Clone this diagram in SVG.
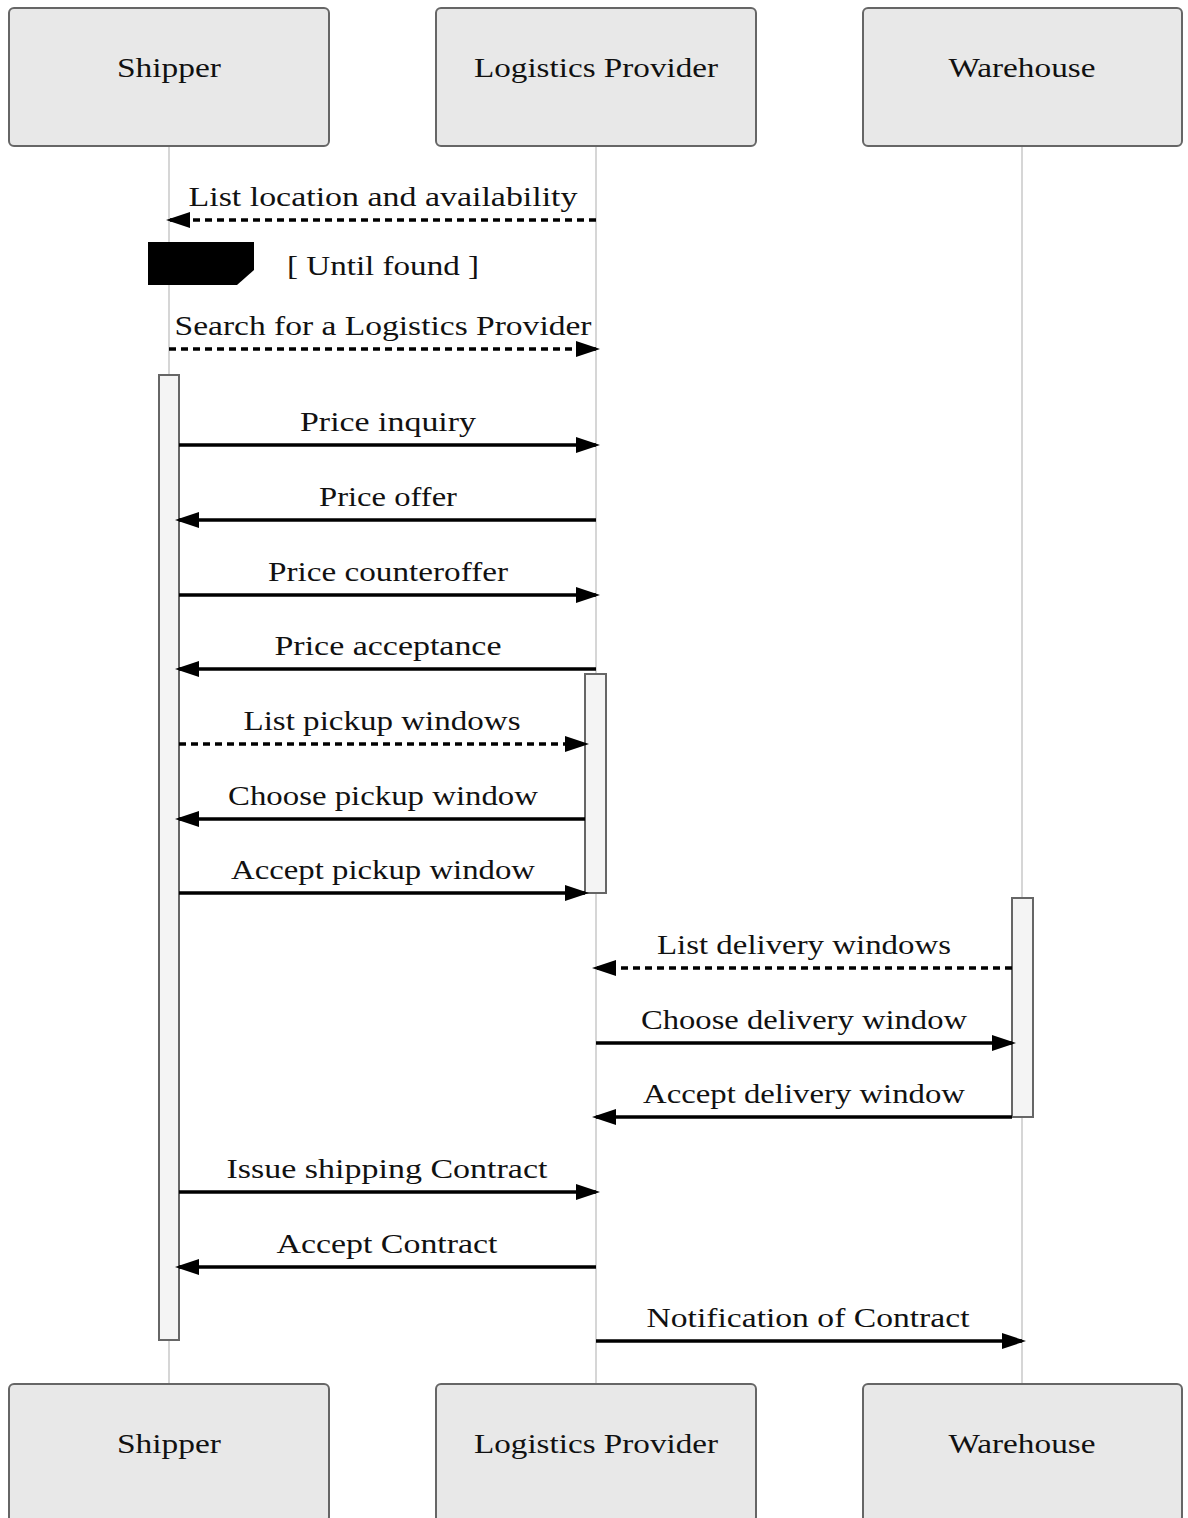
<svg xmlns="http://www.w3.org/2000/svg" width="1188" height="1518" viewBox="0 0 1188 1518">
<style>
.actor rect{fill:#e8e8e8;stroke:#666;stroke-width:2}
.t{font-family:"Liberation Serif","DejaVu Serif",serif;font-size:28px;fill:#111;text-anchor:middle}
.life{stroke:#bbb;stroke-width:1.2}
.act{fill:#f4f4f4;stroke:#666;stroke-width:2}
.msg{stroke:#000;stroke-width:3.5;fill:none;marker-end:url(#ah)}
.dash{stroke-dasharray:7,5}
</style>
<defs>
<marker id="ah" markerUnits="userSpaceOnUse" markerWidth="24" markerHeight="16" refX="20" refY="8" orient="auto">
<path d="M0,0 L24,8 L0,16 z" fill="#000"/>
</marker>
</defs>
<rect width="1188" height="1518" fill="#fff"/>
<g id="lifelines">
<line class="life" x1="169" y1="146" x2="169" y2="1384"/>
<line class="life" x1="596" y1="146" x2="596" y2="1384"/>
<line class="life" x1="1022" y1="146" x2="1022" y2="1384"/>
</g>
<g id="actor-shipper-top" class="actor"><rect x="9" y="8" width="320" height="138" rx="5"/><text class="t" x="169" y="77" textLength="104" lengthAdjust="spacingAndGlyphs">Shipper</text></g>
<g id="actor-lp-top" class="actor"><rect x="436" y="8" width="320" height="138" rx="5"/><text class="t" x="596" y="77" textLength="244" lengthAdjust="spacingAndGlyphs">Logistics Provider</text></g>
<g id="actor-wh-top" class="actor"><rect x="863" y="8" width="319" height="138" rx="5"/><text class="t" x="1022" y="77" textLength="147" lengthAdjust="spacingAndGlyphs">Warehouse</text></g>
<g id="actor-shipper-bottom" class="actor"><rect x="9" y="1384" width="320" height="138" rx="5"/><text class="t" x="169" y="1453" textLength="104" lengthAdjust="spacingAndGlyphs">Shipper</text></g>
<g id="actor-lp-bottom" class="actor"><rect x="436" y="1384" width="320" height="138" rx="5"/><text class="t" x="596" y="1453" textLength="244" lengthAdjust="spacingAndGlyphs">Logistics Provider</text></g>
<g id="actor-wh-bottom" class="actor"><rect x="863" y="1384" width="319" height="138" rx="5"/><text class="t" x="1022" y="1453" textLength="147" lengthAdjust="spacingAndGlyphs">Warehouse</text></g>
<g id="activations">
<rect class="act" x="159" y="375" width="20" height="965"/>
<rect class="act" x="585" y="674" width="21" height="219"/>
<rect class="act" x="1012" y="898" width="21" height="219"/>
</g>
<g id="loop">
<polygon points="148,242 254,242 254,270 237,285 148,285" fill="#000"/>
<text class="t" x="383" y="275" textLength="192" lengthAdjust="spacingAndGlyphs">[ Until found ]</text>
</g>
<g id="connectors">
<line class="msg dash" x1="596" y1="220" x2="170" y2="220"/>
<line class="msg dash" x1="169" y1="349" x2="596" y2="349"/>
<line class="msg" x1="179" y1="445" x2="596" y2="445"/>
<line class="msg" x1="596" y1="520" x2="179" y2="520"/>
<line class="msg" x1="179" y1="595" x2="596" y2="595"/>
<line class="msg" x1="596" y1="669" x2="179" y2="669"/>
<line class="msg dash" x1="179" y1="744" x2="585" y2="744"/>
<line class="msg" x1="585" y1="819" x2="179" y2="819"/>
<line class="msg" x1="179" y1="893" x2="585" y2="893"/>
<line class="msg dash" x1="1012" y1="968" x2="596" y2="968"/>
<line class="msg" x1="596" y1="1043" x2="1012" y2="1043"/>
<line class="msg" x1="1012" y1="1117" x2="596" y2="1117"/>
<line class="msg" x1="179" y1="1192" x2="596" y2="1192"/>
<line class="msg" x1="596" y1="1267" x2="179" y2="1267"/>
<line class="msg" x1="596" y1="1341" x2="1022" y2="1341"/>
</g>
<g id="labels">
<text class="t" x="383" y="206" textLength="389" lengthAdjust="spacingAndGlyphs">List location and availability</text>
<text class="t" x="383" y="335" textLength="417" lengthAdjust="spacingAndGlyphs">Search for a Logistics Provider</text>
<text class="t" x="388" y="431" textLength="176" lengthAdjust="spacingAndGlyphs">Price inquiry</text>
<text class="t" x="388" y="506" textLength="138" lengthAdjust="spacingAndGlyphs">Price offer</text>
<text class="t" x="388" y="581" textLength="240" lengthAdjust="spacingAndGlyphs">Price counteroffer</text>
<text class="t" x="388" y="655" textLength="227" lengthAdjust="spacingAndGlyphs">Price acceptance</text>
<text class="t" x="382" y="730" textLength="277" lengthAdjust="spacingAndGlyphs">List pickup windows</text>
<text class="t" x="383" y="805" textLength="310" lengthAdjust="spacingAndGlyphs">Choose pickup window</text>
<text class="t" x="383" y="879" textLength="304" lengthAdjust="spacingAndGlyphs">Accept pickup window</text>
<text class="t" x="804" y="954" textLength="294" lengthAdjust="spacingAndGlyphs">List delivery windows</text>
<text class="t" x="804" y="1029" textLength="326" lengthAdjust="spacingAndGlyphs">Choose delivery window</text>
<text class="t" x="804" y="1103" textLength="322" lengthAdjust="spacingAndGlyphs">Accept delivery window</text>
<text class="t" x="387" y="1178" textLength="321" lengthAdjust="spacingAndGlyphs">Issue shipping Contract</text>
<text class="t" x="387" y="1253" textLength="221" lengthAdjust="spacingAndGlyphs">Accept Contract</text>
<text class="t" x="808" y="1327" textLength="323" lengthAdjust="spacingAndGlyphs">Notification of Contract</text>
</g>
</svg>
